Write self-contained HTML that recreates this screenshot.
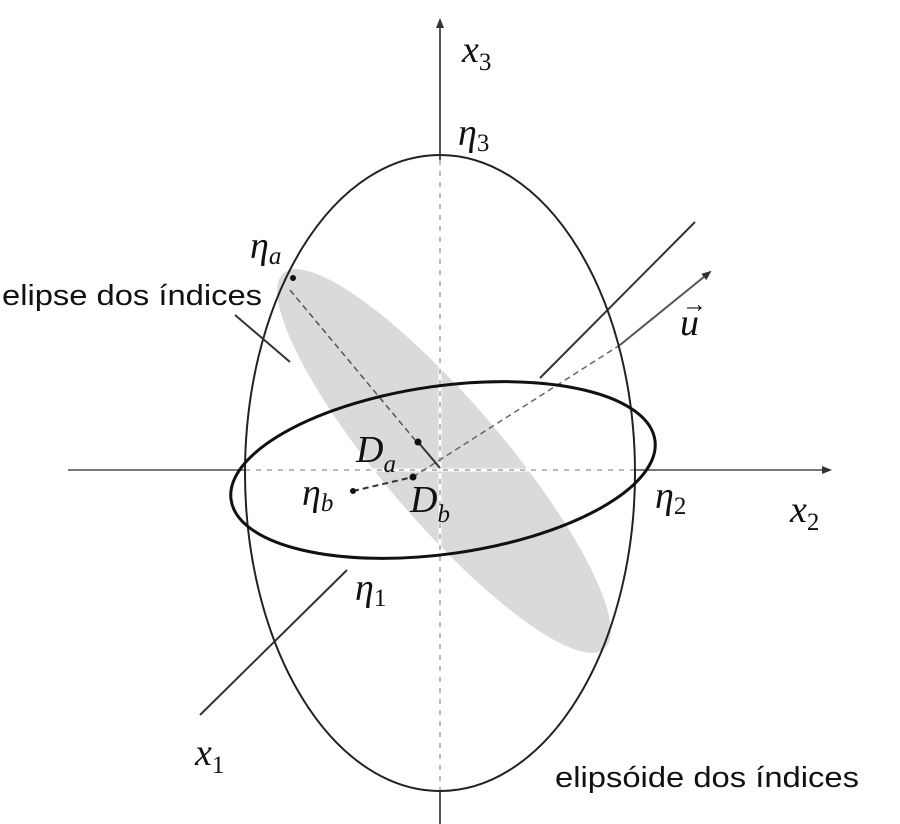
<!DOCTYPE html>
<html><head><meta charset="utf-8"><style>
body{margin:0;background:#fff}
svg{display:block}
.m{font-family:"Liberation Serif",serif;font-style:italic;font-size:38px;fill:#111}
.s{font-family:"Liberation Serif",serif;font-size:25px;fill:#111}
.t{font-family:"Liberation Sans",sans-serif;font-size:29px;fill:#111}
</style></head><body>
<svg width="900" height="824" viewBox="0 0 900 824">
<defs><marker id="ar" markerWidth="10" markerHeight="10" refX="8" refY="5" orient="auto" markerUnits="userSpaceOnUse"><path d="M0,1 L10,5 L0,9 z" fill="#333"/></marker></defs>
<ellipse cx="444" cy="461" rx="247" ry="60" transform="rotate(49.5 444 461)" fill="#dadada"/>
<line x1="440" y1="824" x2="440" y2="20" stroke="#555" stroke-width="2" marker-end="url(#ar)"/>
<line x1="440" y1="160" x2="440" y2="790" stroke="#fff" stroke-width="3"/>
<line x1="440" y1="160" x2="440" y2="790" stroke="#bbb" stroke-width="2" stroke-dasharray="5,6"/>
<line x1="68" y1="470" x2="830" y2="470" stroke="#777" stroke-width="2" marker-end="url(#ar)"/>
<line x1="245" y1="470" x2="635" y2="470" stroke="#fff" stroke-width="3"/>
<line x1="245" y1="470" x2="635" y2="470" stroke="#bbb" stroke-width="2" stroke-dasharray="5,6"/>
<line x1="200" y1="715" x2="347" y2="570" stroke="#333" stroke-width="2"/>
<line x1="540" y1="378" x2="695" y2="222" stroke="#333" stroke-width="2"/>
<line x1="290" y1="290" x2="415" y2="440" stroke="#555" stroke-width="1.5" stroke-dasharray="6,4"/>
<line x1="353" y1="491" x2="413" y2="477" stroke="#333" stroke-width="2" stroke-dasharray="6,4"/>
<line x1="413" y1="477" x2="620" y2="345" stroke="#666" stroke-width="1.5" stroke-dasharray="6,4"/>
<line x1="620" y1="345" x2="710" y2="272" stroke="#555" stroke-width="2" marker-end="url(#ar)"/>
<line x1="418" y1="442" x2="440" y2="468" stroke="#333" stroke-width="2"/>
<ellipse cx="440" cy="473" rx="195" ry="318" fill="none" stroke="#222" stroke-width="2"/>
<ellipse cx="443" cy="470" rx="214" ry="84" transform="rotate(-8 443 470)" fill="none" stroke="#111" stroke-width="3"/>
<line x1="235" y1="315" x2="290" y2="362" stroke="#333" stroke-width="2"/>
<circle cx="418" cy="442" r="3.5" fill="#111"/>
<circle cx="413" cy="477" r="3.5" fill="#111"/>
<circle cx="353" cy="491" r="3" fill="#111"/>
<circle cx="293" cy="278" r="3" fill="#111"/>
<text class="m" x="462" y="62">x<tspan class="s" dy="8" font-style="normal">3</tspan></text>
<text class="m" x="458" y="145">η<tspan class="s" dy="6" font-style="normal">3</tspan></text>
<text class="m" x="250" y="258">η<tspan class="s" dy="6">a</tspan></text>
<text class="t" x="2" y="305" textLength="260" lengthAdjust="spacingAndGlyphs">elipse dos índices</text>
<text class="m" x="680" y="335">u</text>
<text class="s" x="682" y="312">→</text>
<text class="m" x="356" y="462">D<tspan class="s" dy="10">a</tspan></text>
<text class="m" x="410" y="512">D<tspan class="s" dy="10">b</tspan></text>
<text class="m" x="302" y="505">η<tspan class="s" dy="6">b</tspan></text>
<text class="m" x="655" y="508">η<tspan class="s" dy="6" font-style="normal">2</tspan></text>
<text class="m" x="790" y="522">x<tspan class="s" dy="8" font-style="normal">2</tspan></text>
<text class="m" x="355" y="600">η<tspan class="s" dy="6" font-style="normal">1</tspan></text>
<text class="m" x="195" y="765">x<tspan class="s" dy="8" font-style="normal">1</tspan></text>
<text class="t" x="555" y="787" textLength="304" lengthAdjust="spacingAndGlyphs">elipsóide dos índices</text>
</svg>
</body></html>
